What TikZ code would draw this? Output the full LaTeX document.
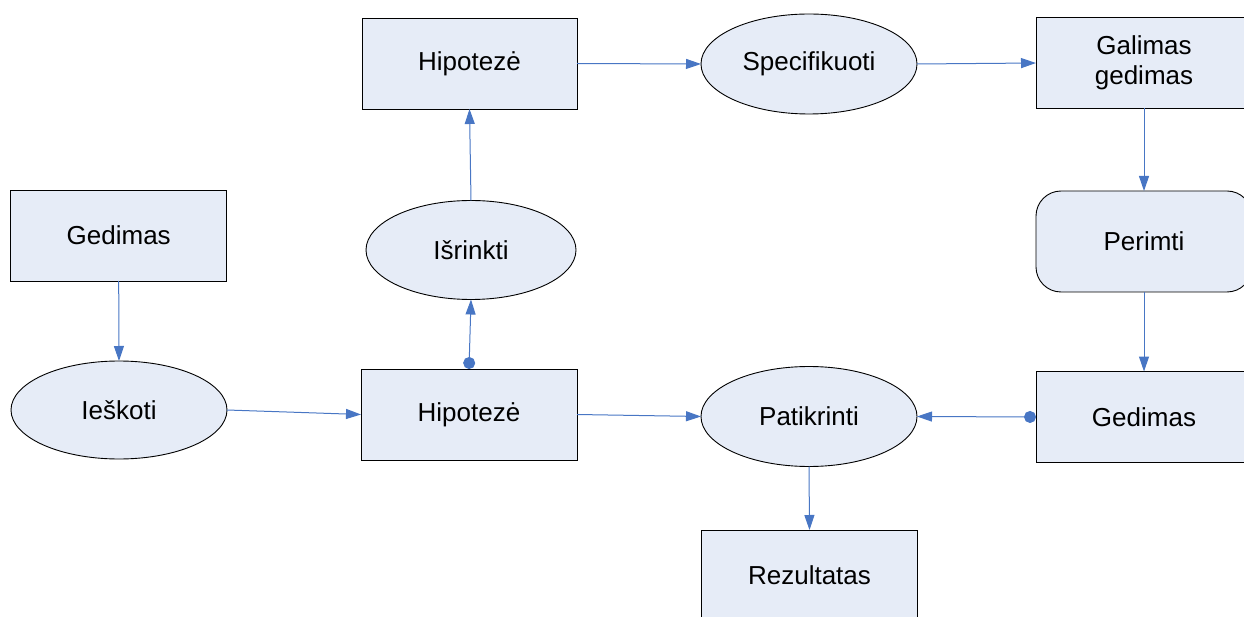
\documentclass[tikz,border=0pt]{standalone}
\usepackage{fontspec}
\setmainfont{Liberation Sans}
\usetikzlibrary{shapes.geometric,arrows.meta}
\definecolor{boxfill}{RGB}{230,236,247}
\definecolor{flow}{RGB}{72,118,196}
\tikzset{
  base/.style={draw=black, fill=boxfill, line width=0.9pt, inner sep=0pt, outer sep=0pt,
    font=\fontsize{26}{30}\selectfont, align=center},
  box/.style={base, rectangle, minimum width=216pt, minimum height=91pt},
  oval/.style={base, ellipse, minimum width=216pt, minimum height=100pt},
  roundbox/.style={base, rectangle, rounded corners=25pt, minimum width=216pt, minimum height=101pt},
  flowarrow/.style={draw=flow, line width=1pt, -{Triangle[length=15pt,width=10pt]}},
  dotarrow/.style={draw=flow, line width=1pt, {Circle[length=12pt]}-{Triangle[length=15pt,width=10pt]}}
}
\begin{document}
\begin{tikzpicture}[x=1pt,y=-1pt]
\useasboundingbox (0,0) rectangle (1244,617);
\clip (0,0) rectangle (1244,617);

% left column
\node[box] (gedL) at (118.7,235.5) {Gedimas};
\node[oval, minimum width=216pt, minimum height=98pt] (ieskoti) at (119,410) {Ieškoti};

% middle-left column
\node[box, minimum width=216pt] (hipMid) at (469,414.5) {Hipotezė};
\node[oval, minimum width=210pt, minimum height=99pt] (isrinkti) at (471,250) {Išrinkti};
\node[box, minimum width=215pt] (hipTop) at (469.5,63.5) {Hipotezė};

% middle-right column
\node[oval] (spec) at (809,64) {Specifikuoti};
\node[oval] (patikrinti) at (809,416.5) {Patikrinti};
\node[box, minimum height=90pt] (rez) at (809.5,575) {Rezultatas};

% right column
\node[box] (galimas) at (1144,63) {Galimas\\gedimas};
\node[roundbox] (perimti) at (1144,241.5) {Perimti};
\node[box] (gedR) at (1144,417) {Gedimas};

% connectors
\draw[flowarrow] (gedL.south) -- (ieskoti.north);
\draw[flowarrow] (ieskoti.east) -- (hipMid.west);
\draw[dotarrow] (hipMid.north) -- (isrinkti.south);
\draw[flowarrow] (isrinkti.north) -- (hipTop.south);
\draw[flowarrow] (hipTop.east) -- (spec.west);
\draw[flowarrow] (spec.east) -- (galimas.west);
\draw[flowarrow] (galimas.south) -- (perimti.north);
\draw[flowarrow] (perimti.south) -- (gedR.north);
\draw[dotarrow] (gedR.west) -- (patikrinti.east);
\draw[flowarrow] (hipMid.east) -- (patikrinti.west);
\draw[flowarrow] (patikrinti.south) -- (rez.north);
\end{tikzpicture}
\end{document}
